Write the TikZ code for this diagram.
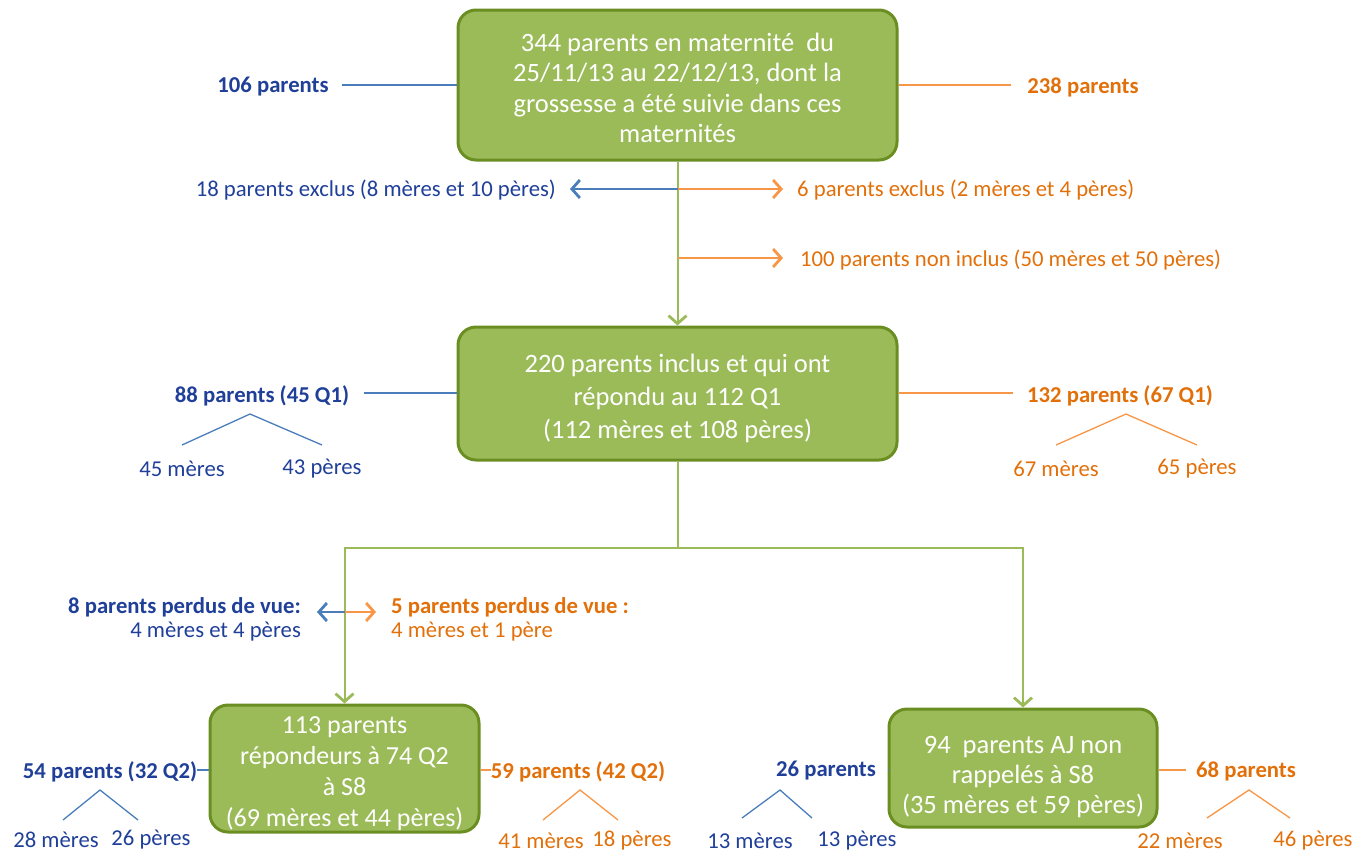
\documentclass[tikz,border=0pt]{standalone}
\usepackage{fontspec}
\setmainfont{Carlito}
\usetikzlibrary{arrows.meta}
\definecolor{gfill}{HTML}{9BBB59}
\definecolor{gdraw}{HTML}{6B8E23}
\definecolor{bline}{HTML}{4A7EBB}
\definecolor{btext}{HTML}{1F3F99}
\definecolor{oline}{HTML}{F79646}
\definecolor{otext}{HTML}{E2700A}
\newcommand\myup[1]{\rule{0pt}{#1pt}}
\newcommand\mydn[1]{\rule[-#1pt]{0pt}{0pt}}
\tikzset{
  box/.style={draw=gdraw, line width=3pt, fill=gfill, rounded corners=18pt, text=white, align=center,
    font=\fontsize{26.5}{30.5}\selectfont, inner sep=0pt},
  bl/.style={text=btext, font=\fontsize{22.7}{25}\selectfont, inner sep=0pt},
  blb/.style={text=btext, font=\bfseries\fontsize{22.7}{25}\selectfont, inner sep=0pt},
  ol/.style={text=otext, font=\fontsize{22.7}{25}\selectfont, inner sep=0pt},
  olb/.style={text=otext, font=\bfseries\fontsize{22.7}{25}\selectfont, inner sep=0pt},
  bln/.style={draw=bline, line width=1.3pt},
  oln/.style={draw=oline, line width=1.3pt},
  gln/.style={draw=gfill, line width=2pt},
  tipv/.style={-{Straight Barb[length=8pt,width=18pt,line width=2.8pt]}},
}
\begin{document}
\begin{tikzpicture}[x=1pt,y=-1pt]
\useasboundingbox (0,0) rectangle (1370,854);

% main boxes
\node[box, minimum width=439pt, minimum height=150pt] (top) at (677.5,85)
  {\myup{33.5}344 parents en maternité~ du\\25/11/13 au 22/12/13, dont la\\grossesse a été suivie dans ces\\maternités\mydn{10}};
\node[box, minimum width=439pt, minimum height=133pt, font=\fontsize{26.5}{33}\selectfont] (mid) at (677.5,393.5)
  {\myup{33}220 parents inclus et qui ont\\répondu au 112 Q1\\(112 mères et 108 pères)\mydn{10}};
\node[box, minimum width=269pt, minimum height=127pt, font=\fontsize{26}{31}\selectfont] (b2) at (344.5,768.5)
  {\myup{28}113 parents\\répondeurs à 74 Q2\\à S8\\(69 mères et 44 pères)\mydn{6}};
\node[box, minimum width=268pt, minimum height=118pt, font=\fontsize{26.5}{30}\selectfont] (b3) at (1023,768)
  {\myup{40}94~ parents AJ non\\rappelés à S8\\(35 mères et 59 pères)\mydn{10}};

% top side labels
\node[blb] (l106) at (273,87) {106 parents};
\node[olb] (l238) at (1083,87) {238 parents};
\draw[bln] ([xshift=13pt]l106.east |- top.west) -- (top.west);
\draw[oln] (top.east) -- ([xshift=-16pt]l238.west |- top.east);

% top -> mid
\draw[gln, tipv] (top.south) -- (mid.north);
\coordinate (v1) at (top.south |- 0,189);
\coordinate (v2) at (top.south |- 0,258);
\node[bl, anchor=east] (ex18) at (556,190) {18 parents exclus (8 mères et 10 pères)};
\node[ol, anchor=west] (ex6) at (797,190) {6 parents exclus (2 mères et 4 pères)};
\node[ol, anchor=west] (ni100) at (800,260) {100 parents non inclus (50 mères et 50 pères)};
\draw[bln, tipv] (v1) -- ([xshift=14pt]ex18.east |- v1);
\draw[oln, tipv] (v1) -- ([xshift=-14pt]ex6.west |- v1);
\draw[oln, tipv] (v2) -- ([xshift=-17pt]ni100.west |- v2);

% mid side labels
\node[blb] (l88) at (262,396) {88 parents (45 Q1)};
\node[olb] (l132) at (1120,396) {132 parents (67 Q1)};
\draw[bln] ([xshift=15pt]l88.east |- 0,393) -- (mid.west |- 0,393);
\draw[oln] (mid.east |- 0,393) -- ([xshift=-14pt]l132.west |- 0,393);
\coordinate (a88) at (250,414);
\coordinate (a132) at (1126,414);
\node[bl] (m45) at (182,469) {45 mères};
\node[bl] (p43) at (322,469) {43 pères};
\node[ol] (m67) at (1056,469) {67 mères};
\node[ol] (p65) at (1197,469) {65 pères};
\draw[bln] (m45.north |- 0,445) -- (a88) -- (p43.north |- 0,445);
\draw[oln] (m67.north |- 0,445) -- (a132) -- (p65.north |- 0,445);

% mid -> lower boxes
\coordinate (j) at (mid.south |- 0,548);
\draw[gln] (mid.south) -- (j);
\draw[gln, tipv] (j) -| (b2.north);
\draw[gln, tipv] (j) -| (b3.north);

% perdus de vue
\coordinate (v3) at (b2.north |- 0,612);
\node[blb, anchor=east] (pv8) at (301,607) {8 parents perdus de vue:};
\node[bl, anchor=east] (pv8b) at (301,632) {4 mères et 4 pères};
\node[olb, anchor=west] (pv5) at (391,607) {5 parents perdus de vue :};
\node[ol, anchor=west] (pv5b) at (391,632) {4 mères et 1 père};
\draw[bln, tipv] (v3) -- (317,612);
\draw[oln, tipv] (v3) -- (376,612);

% box2 side labels
\node[blb] (l54) at (110,772) {54 parents (32 Q2)};
\node[olb] (l59) at (578,772) {59 parents (42 Q2)};
\draw[bln] (l54.east |- 0,770) -- (b2.west |- 0,770);
\draw[oln] (b2.east |- 0,770) -- (l59.west |- 0,770);
\coordinate (a54) at (100,790);
\coordinate (a59) at (580,790);
\node[bl] (m28) at (56,840) {28 mères};
\node[bl] (p26) at (151,840) {26 pères};
\node[ol] (m41) at (541,841) {41 mères};
\node[ol] (p18) at (632,841) {18 pères};
\draw[bln] (63,820) -- (a54) -- (138,820);
\draw[oln] (543,820) -- (a59) -- (618,820);

% box3 side labels
\node[blb] (l26) at (826,771) {26 parents};
\node[olb] (l68) at (1246,771) {68 parents};
\draw[bln] ([xshift=12pt]l26.east |- 0,770) -- (b3.west |- 0,770);
\draw[oln] (b3.east |- 0,770) -- ([xshift=-10pt]l68.west |- 0,770);
\coordinate (a26) at (780,790);
\coordinate (a68) at (1249,790);
\node[bl] (m13) at (750,841) {13 mères};
\node[bl] (p13) at (857,841) {13 pères};
\node[ol] (m22) at (1180,841) {22 mères};
\node[ol] (p46) at (1313,841) {46 pères};
\draw[bln] (742,818) -- (a26) -- (812,818);
\draw[oln] (1207,818) -- (a68) -- (1290,818);
\end{tikzpicture}
\end{document}
